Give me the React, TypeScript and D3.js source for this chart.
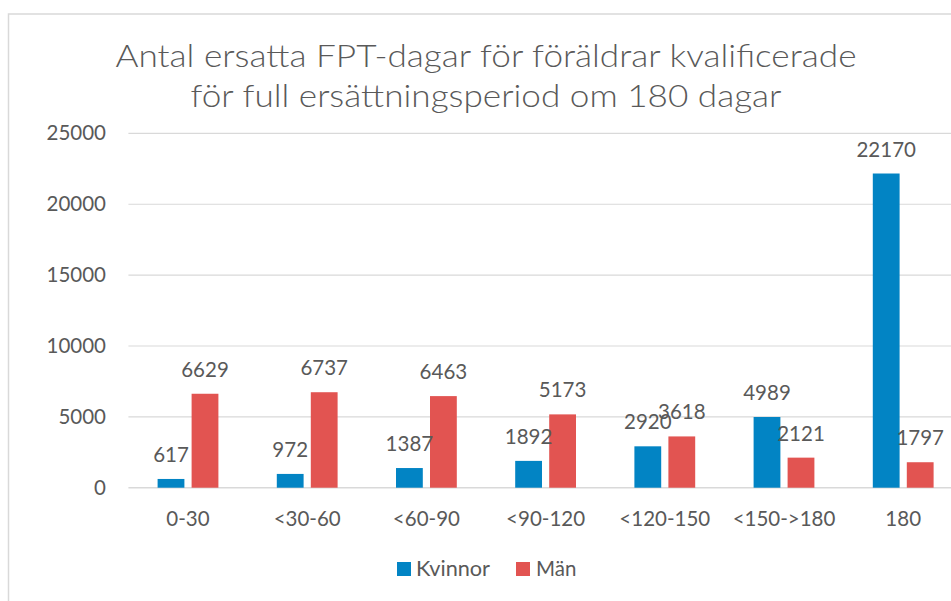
import React from "react";
import * as d3 from "d3";

const categories = ["0-30", "<30-60", "<60-90", "<90-120", "<120-150", "<150->180", "180"];
const kvinnor = [617, 972, 1387, 1892, 2920, 4989, 22170];
const man = [6629, 6737, 6463, 5173, 3618, 2121, 1797];
const yTicks = [0, 5000, 10000, 15000, 20000, 25000];
const seriesNames = ["Kvinnor", "Män"];
const titleLines = [
  "Antal ersatta FPT-dagar för föräldrar kvalificerade",
  "för full ersättningsperiod om 180 dagar",
];
const titleWidths = [741, 591];

const W = 951;
const H = 601;
const FONT = "Lato, 'Open Sans', sans-serif";
const TEXT = "#595959";
const BLUE = "#0284c4";
const RED = "#e25451";

export default function App() {
  const x = d3.scaleBand<string>().domain(categories).range([128.4, 128.4 + 7 * 119.2]).padding(0);
  const y = d3.scaleLinear().domain([0, 25000]).range([487.7, 133.4]);
  const bw = 26.8;
  const center = (c: string) => (x(c) as number) + x.bandwidth() / 2;

  return (
    <svg width={W} height={H} style={{ position: "absolute", left: 0, top: 0, background: "#fff" }} fontFamily={FONT}>
      <rect x={0} y={0} width={W} height={H} fill="#fff" />
      <rect x={8.5} y={14} width={956} height={600} fill="#fff" stroke="#d9d9d9" strokeWidth={1.5} />
      {titleLines.map((t, i) => (
        <text
          key={i}
          x={486}
          y={67 + i * 40}
          textAnchor="middle"
          fontSize={30.5}
          fontWeight={300}
          fill={TEXT}
          textLength={titleWidths[i]}
          lengthAdjust="spacingAndGlyphs"
        >
          {t}
        </text>
      ))}
      {yTicks.map((t) => (
        <g key={t}>
          <line x1={128.4} x2={W + 20} y1={y(t)} y2={y(t)} stroke="#d9d9d9" strokeWidth={t === 0 ? 1.5 : 1.2} />
          <text x={106} y={y(t) + 7} textAnchor="end" fontSize={20.5} fill={TEXT}>
            {t}
          </text>
        </g>
      ))}
      {categories.map((c, i) => {
        const cx = center(c);
        const bx = cx - 30.4;
        const rx = cx + 3.6;
        return (
          <g key={c}>
            <rect x={bx} y={y(kvinnor[i])} width={bw} height={y(0) - y(kvinnor[i])} fill={BLUE} />
            <rect x={rx} y={y(man[i])} width={bw} height={y(0) - y(man[i])} fill={RED} />
            <text x={bx + bw / 2} y={y(kvinnor[i]) - 17} textAnchor="middle" fontSize={20.5} fill={TEXT}>
              {kvinnor[i]}
            </text>
            <text x={rx + bw / 2} y={y(man[i]) - 17} textAnchor="middle" fontSize={20.5} fill={TEXT}>
              {man[i]}
            </text>
            <text x={cx} y={526} textAnchor="middle" fontSize={20.5} fill={TEXT}>
              {c}
            </text>
          </g>
        );
      })}
      <g>
        <rect x={397} y={562} width={14} height={14} fill={BLUE} />
        <text x={416} y={576} fontSize={20.5} fill={TEXT} textLength={74} lengthAdjust="spacingAndGlyphs">
          {seriesNames[0]}
        </text>
        <rect x={516} y={562} width={14} height={14} fill={RED} />
        <text x={536} y={576} fontSize={20.5} fill={TEXT}>
          {seriesNames[1]}
        </text>
      </g>
    </svg>
  );
}
